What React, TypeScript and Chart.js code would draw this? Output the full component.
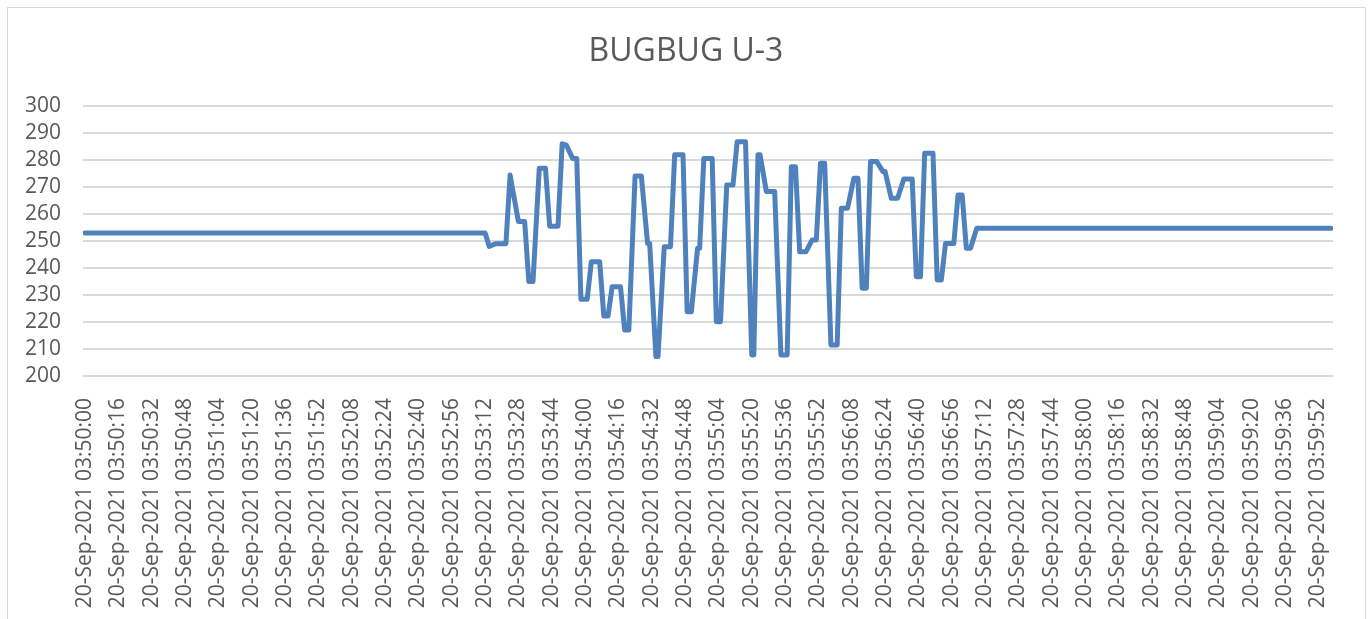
import React, { useEffect, useRef } from 'react';
import { Chart, registerables } from 'chart.js';

Chart.register(...registerables);

const chartTitle = 'BUGBUG U-3';
const datePrefix = '20-Sep-2021';
const startTime = '03:50:00';

const tickTimes = [
  '03:50:00', '03:50:16', '03:50:32', '03:50:48',
  '03:51:04', '03:51:20', '03:51:36', '03:51:52',
  '03:52:08', '03:52:24', '03:52:40', '03:52:56',
  '03:53:12', '03:53:28', '03:53:44',
  '03:54:00', '03:54:16', '03:54:32', '03:54:48',
  '03:55:04', '03:55:20', '03:55:36', '03:55:52',
  '03:56:08', '03:56:24', '03:56:40', '03:56:56',
  '03:57:12', '03:57:28', '03:57:44',
  '03:58:00', '03:58:16', '03:58:32', '03:58:48',
  '03:59:04', '03:59:20', '03:59:36', '03:59:52',
];

// seconds after 03:50:00 at which the reading changes
const seconds = [
  0, 192, 194, 197, 202, 204, 208, 211, 213, 215,
  218, 221, 223, 227, 229, 231, 234, 236, 238, 241,
  243, 247, 249, 251, 253, 257, 259, 261, 264, 267,
  270, 271, 274, 275, 278, 281, 283, 287, 289, 291,
  294, 295, 297, 301, 303, 305, 308, 311, 313, 317,
  320, 321, 323, 324, 327, 331, 334, 337, 339, 341,
  343, 346, 349, 351, 353, 355, 358, 361, 363, 366,
  369, 371, 373, 375, 377, 380, 383, 384, 387, 390,
  393, 397, 399, 401, 403, 407, 409, 411, 413, 417,
  419, 421, 423, 425, 428, 598,
];

const readings = [
  253, 253, 248, 249, 249, 274.4, 257.2, 257.2, 235, 235,
  276.9, 276.9, 255.5, 255.5, 286, 285.5, 280.6, 280.6, 228.4, 228.4,
  242.3, 242.3, 222.2, 222.2, 233.1, 233.1, 217, 217, 274.1, 274.1,
  249.1, 249.1, 207.2, 207.2, 247.9, 247.9, 281.9, 281.9, 223.8, 223.8,
  247.3, 247.3, 280.6, 280.6, 220.1, 220.1, 270.7, 270.7, 286.8, 286.8,
  207.8, 207.8, 281.9, 281.9, 268.3, 268.3, 207.8, 207.8, 277.5, 277.5,
  246, 246, 250.4, 250.4, 278.8, 278.8, 211.5, 211.5, 262.1, 262.1,
  273.2, 273.2, 232.5, 232.5, 279.4, 279.4, 275.7, 275.7, 265.8, 265.8,
  273, 273, 236.8, 236.8, 282.5, 282.5, 235.6, 235.6, 249.1, 249.1,
  267, 267, 247.3, 247.3, 254.7, 254.7,
];

const yMin = 200;
const yMax = 300;
const yStep = 10;

function toSec(t: string): number {
  const [h, m, s] = t.split(':').map(Number);
  return h * 3600 + m * 60 + s;
}

const textColor = '#595959';
const fontFamily = 'Open Sans';

export default function App() {
  const ref = useRef<HTMLCanvasElement>(null);

  useEffect(() => {
    document.body.style.margin = '0';
    const t0 = toSec(startTime);
    const framePlugin = {
      id: 'frame',
      beforeDraw(chart: any) {
        const ctx = chart.ctx;
        ctx.save();
        ctx.fillStyle = '#ffffff';
        ctx.fillRect(0, 0, chart.width, chart.height);
        ctx.strokeStyle = '#d9d9d9';
        ctx.lineWidth = 1;
        ctx.strokeRect(7.5, 7.5, 1358, 700);
        ctx.restore();
      },
      afterDraw(chart: any) {
        const ctx = chart.ctx;
        ctx.save();
        ctx.fillStyle = textColor;
        ctx.font = `32px ${fontFamily}`;
        ctx.textAlign = 'center';
        ctx.textBaseline = 'middle';
        ctx.fillText(chartTitle, 686, 52);
        ctx.restore();
      },
    };

    const chart = new Chart(ref.current as HTMLCanvasElement, {
      type: 'line',
      data: {
        datasets: [
          {
            data: seconds.map((s, i) => ({ x: s, y: readings[i] })),
            borderColor: '#4f81bd',
            backgroundColor: '#4f81bd',
            borderWidth: 5,
            pointRadius: 0,
            borderJoinStyle: 'round',
            borderCapStyle: 'round',
            tension: 0,
          },
        ],
      },
      options: {
        responsive: false,
        animation: false,
        layout: { padding: { left: 0, right: 35, top: 106, bottom: 0 } },
        plugins: {
          legend: { display: false },
          tooltip: { enabled: false },
          title: { display: false },
        },
        scales: {
          x: {
            type: 'linear',
            min: -1,
            max: 599,
            afterBuildTicks: (scale: any) => {
              scale.ticks = tickTimes.map((t) => ({ value: toSec(t) - t0 }));
            },
            afterFit: (scale: any) => {
              scale.height = 243;
            },
            ticks: {
              autoSkip: false,
              minRotation: 90,
              maxRotation: 90,
              padding: 14,
              color: textColor,
              font: { family: fontFamily, size: 21 },
              callback: (_v: any, i: number) => `${datePrefix} ${tickTimes[i]}`,
            },
            grid: { display: false },
            border: { display: false },
          },
          y: {
            min: yMin,
            max: yMax,
            afterFit: (scale: any) => {
              scale.width = 83;
            },
            ticks: {
              stepSize: yStep,
              autoSkip: false,
              padding: 22,
              color: textColor,
              font: { family: fontFamily, size: 21 },
            },
            grid: { color: '#d9d9d9', lineWidth: 2, drawTicks: false },
            border: { display: false },
          },
        },
      },
      plugins: [framePlugin],
    } as any);

    return () => chart.destroy();
  }, []);

  return (
    <div style={{ position: 'absolute', left: 0, top: 0, width: 1368, height: 619 }}>
      <canvas ref={ref} width={1368} height={619} style={{ width: 1368, height: 619 }} />
    </div>
  );
}
